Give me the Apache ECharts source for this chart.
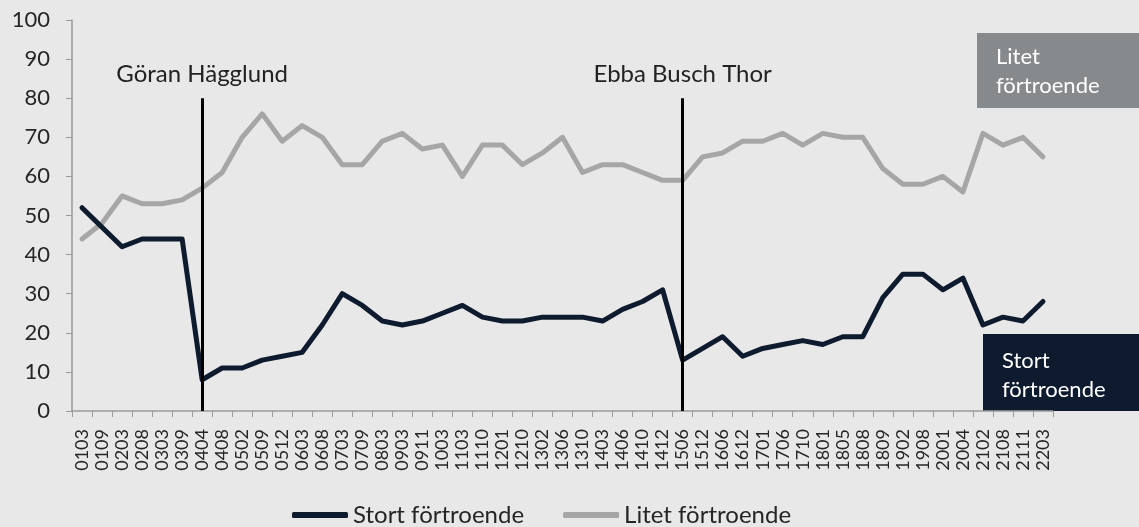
<!DOCTYPE html>
<html>
<head>
<meta charset="utf-8">
<script src="https://cdn.jsdelivr.net/npm/echarts@6/dist/echarts.min.js"></script>
<style>
  html, body { margin: 0; padding: 0; background: #e8e8e8; }
  #chart { width: 1139px; height: 527px; }
</style>
</head>
<body>
<div id="chart"></div>
<script>
const perioder = ['0103', '0109', '0203', '0208', '0303', '0309', '0404', '0408', '0502', '0509',
    '0512', '0603', '0608', '0703', '0709', '0803', '0903', '0911', '1003', '1103',
    '1110', '1201', '1210', '1302', '1306', '1310', '1403', '1406', '1410', '1412',
    '1506', '1512', '1606', '1612', '1701', '1706', '1710', '1801', '1805', '1808',
    '1809', '1902', '1908', '2001', '2004', '2102', '2108', '2111', '2203']

const stortFortroende = [52, 47, 42, 44, 44, 44, 8, 11, 11, 13,
    14, 15, 22, 30, 27, 23, 22, 23, 25, 27,
    24, 23, 23, 24, 24, 24, 23, 26, 28, 31,
    13, 16, 19, 14, 16, 17, 18, 17, 19, 19,
    29, 35, 35, 31, 34, 22, 24, 23, 28]

const litetFortroende = [44, 48, 55, 53, 53, 54, 57, 61, 70, 76,
    69, 73, 70, 63, 63, 69, 71, 67, 68, 60,
    68, 68, 63, 66, 70, 61, 63, 63, 61, 59,
    59, 65, 66, 69, 69, 71, 68, 71, 70, 70,
    62, 58, 58, 60, 56, 71, 68, 70, 65]

// partiledarbyten
const ledarbyten = [
    { period: '0404', namn: 'Göran Hägglund' },
    { period: '1506', namn: 'Ebba Busch Thor' }
]

const font = 'Lato'
const mork = '#0e1b2e'
const ljus = '#a6a6a6'

let myChart = echarts.init(document.getElementById('chart'), null, { renderer: 'canvas' })

myChart.setOption({
    backgroundColor: '#e8e8e8',
    animation: false,
    textStyle: { fontFamily: font },
    grid: { left: 72, right: 86, top: 20, bottom: 116 },
    legend: {
        bottom: -5,
        left: 287,
        icon: 'roundRect',
        itemWidth: 56,
        itemHeight: 6,
        itemGap: 39,
        textStyle: { fontSize: 24, color: '#262626', fontFamily: font },
        data: ['Stort förtroende', 'Litet förtroende']
    },
    xAxis: {
        type: 'category',
        data: perioder,
        boundaryGap: true,
        axisLine: { lineStyle: { color: '#9a9a9a', width: 1.5 } },
        axisTick: { show: true, length: 6, interval: 0, lineStyle: { color: '#9a9a9a' } },
        axisLabel: { rotate: 90, interval: 0, fontSize: 18, color: '#262626', margin: 18, fontFamily: font }
    },
    yAxis: {
        type: 'value',
        min: 0,
        max: 100,
        interval: 10,
        splitLine: { show: false },
        axisLine: { show: true, lineStyle: { color: '#9a9a9a', width: 1.5 } },
        axisTick: { show: true, length: 6, lineStyle: { color: '#9a9a9a' } },
        axisLabel: { fontSize: 22, color: '#262626', margin: 22, fontFamily: font }
    },
    series: [
        {
            name: 'Stort förtroende',
            type: 'line',
            data: stortFortroende,
            symbol: 'none',
            color: mork,
            lineStyle: { width: 5, color: mork, cap: 'round', join: 'round' },
            z: 3,
            markLine: {
                silent: true,
                symbol: 'none',
                lineStyle: { color: '#000', width: 3, type: 'solid' },
                label: {
                    show: true,
                    position: 'end',
                    distance: 12,
                    fontSize: 24,
                    color: '#222',
                    fontFamily: font
                },
                data: ledarbyten.map(l => [
                    { coord: [l.period, 0] },
                    { coord: [l.period, 80], label: { formatter: l.namn } }
                ])
            }
        },
        {
            name: 'Litet förtroende',
            type: 'line',
            data: litetFortroende,
            symbol: 'none',
            color: ljus,
            lineStyle: { width: 5, color: ljus, cap: 'round', join: 'round' },
            z: 2
        }
    ],
    graphic: [
        {
            type: 'group',
            right: 0,
            top: 33,
            children: [
                { type: 'rect', shape: { x: 0, y: 0, width: 162, height: 75 }, style: { fill: '#878a8d' } },
                { type: 'text', x: 19, y: 9, style: { text: 'Litet\nförtroende', fill: '#fff', font: '22px Lato', lineHeight: 29 } }
            ]
        },
        {
            type: 'group',
            right: 0,
            top: 334,
            children: [
                { type: 'rect', shape: { x: 0, y: 0, width: 156, height: 77 }, style: { fill: '#0e1b2e' } },
                { type: 'text', x: 19, y: 12, style: { text: 'Stort\nförtroende', fill: '#fff', font: '22px Lato', lineHeight: 29 } }
            ]
        }
    ]
})

window.addEventListener('resize', () => {
    myChart.resize()
})
</script>
</body>
</html>
